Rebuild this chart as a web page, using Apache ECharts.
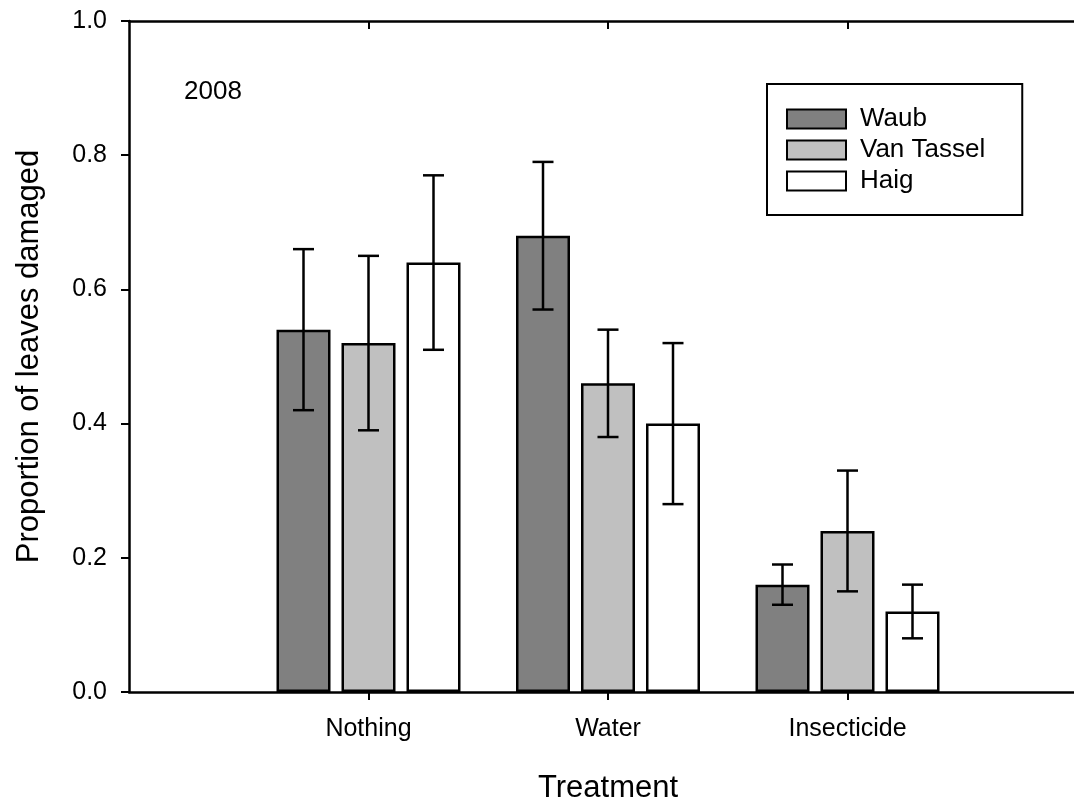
<!DOCTYPE html>
<html><head><meta charset="utf-8">
<script src="https://cdn.jsdelivr.net/npm/echarts@6/dist/echarts.min.js"></script>
<style>html,body{margin:0;padding:0;background:#fff}#c{width:1074px;height:801px}</style>
</head><body><div id="c"></div>
<script>
// ---- data ----
const treatments = ['Nothing', 'Water', 'Insecticide'];
const varieties = ['Waub', 'Van Tassel', 'Haig'];
const waub = [0.54, 0.68, 0.16];
const waubErr = [0.12, 0.11, 0.03];
const vanTassel = [0.52, 0.46, 0.24];
const vanTasselErr = [0.13, 0.08, 0.09];
const haig = [0.64, 0.40, 0.12];
const haigErr = [0.13, 0.12, 0.04];
const yearLabel = '2008';
const yAxisTitle = 'Proportion of leaves damaged';
const xAxisTitle = 'Treatment';

// ---- style ----
const FONT = 'Liberation Sans, Arial, sans-serif';
const colors = ['#808080', '#c0c0c0', '#ffffff'];
const BAR_W = 54;
const BAR_GAP = 11 / 54;
const PITCH = BAR_W * (1 + BAR_GAP);

const means = [waub, vanTassel, haig];
const errs = [waubErr, vanTasselErr, haigErr];
const cats = [''].concat(treatments, ['']);

const chart = echarts.init(document.getElementById('c'), null, {renderer: 'canvas'});

const barSeries = varieties.map((name, k) => ({
  name: name,
  type: 'bar',
  barWidth: BAR_W,
  barGap: (BAR_GAP * 100) + '%',
  data: [null].concat(means[k], [null]),
  itemStyle: {color: colors[k], borderColor: '#000', borderWidth: 2.5},
  emphasis: {disabled: true},
  z: 2
}));

const errSeries = varieties.map((name, k) => ({
  type: 'custom',
  name: name + ' SE',
  xAxisIndex: 0, yAxisIndex: 0,
  data: treatments.map((t, i) => [i + 1, means[k][i], errs[k][i]]),
  encode: {x: 0, y: 1},
  z: 5,
  silent: true,
  clip: false,
  renderItem: function (params, api) {
    const x = api.value(0), v = api.value(1), e = api.value(2);
    const off = (k - 1) * PITCH;
    const hi = api.coord([x, v + e]);
    const lo = api.coord([x, v - e]);
    const cx = hi[0] + off;
    const cap = 10.5;
    const st = {stroke: '#000', lineWidth: 2.5};
    return {
      type: 'group',
      children: [
        {type: 'line', shape: {x1: cx, y1: hi[1], x2: cx, y2: lo[1]}, style: st},
        {type: 'line', shape: {x1: cx - cap, y1: hi[1], x2: cx + cap, y2: hi[1]}, style: st},
        {type: 'line', shape: {x1: cx - cap, y1: lo[1], x2: cx + cap, y2: lo[1]}, style: st}
      ]
    };
  }
}));

const tickOnCats = (idx) => idx >= 1 && idx <= treatments.length;

chart.setOption({
  animation: false,
  backgroundColor: '#fff',
  textStyle: {fontFamily: FONT, color: '#000'},
  grid: {left: 129, top: 21, width: 958, height: 671, containLabel: false, outerBoundsMode: 'none'},
  legend: {
    data: varieties,
    orient: 'vertical',
    left: 767, top: 84,
    padding: [22, 37, 21, 19],
    borderColor: '#000', borderWidth: 2,
    backgroundColor: '#fff',
    icon: 'rect',
    itemWidth: 59, itemHeight: 19,
    itemGap: 5,
    selectedMode: false,
    textStyle: {fontFamily: FONT, fontSize: 26, color: '#000', padding: [0, 0, 0, 9]}
  },
  xAxis: [{
    type: 'category',
    data: cats,
    boundaryGap: false,
    position: 'bottom',
    name: xAxisTitle,
    nameLocation: 'middle',
    nameGap: 81,
    nameTextStyle: {fontFamily: FONT, fontSize: 31, color: '#000'},
    axisLine: {lineStyle: {color: '#000', width: 2.5}},
    axisTick: {show: true, interval: tickOnCats, length: 8, lineStyle: {color: '#000', width: 2}},
    axisLabel: {interval: 0, margin: 25, fontFamily: FONT, fontSize: 25, color: '#000'},
    splitLine: {show: false}
  }, {
    type: 'category',
    data: cats,
    boundaryGap: false,
    position: 'top',
    axisLine: {lineStyle: {color: '#000', width: 2.5}},
    axisTick: {show: true, inside: true, interval: tickOnCats, length: 8, lineStyle: {color: '#000', width: 2}},
    axisLabel: {show: false},
    splitLine: {show: false}
  }],
  yAxis: {
    type: 'value',
    min: 0, max: 1, interval: 0.2,
    name: yAxisTitle,
    nameLocation: 'middle',
    nameGap: 84,
    nameTextStyle: {fontFamily: FONT, fontSize: 31, color: '#000'},
    axisLine: {show: true, lineStyle: {color: '#000', width: 2.5}},
    axisTick: {show: true, length: 8, lineStyle: {color: '#000', width: 2}},
    axisLabel: {margin: 22, fontFamily: FONT, fontSize: 25, color: '#000', formatter: v => v.toFixed(1)},
    splitLine: {show: false}
  },
  graphic: [{
    type: 'text', left: 184, top: 79,
    style: {text: yearLabel, font: '26px ' + FONT, fill: '#000'}
  }],
  series: barSeries.concat(errSeries)
});
</script></body></html>
